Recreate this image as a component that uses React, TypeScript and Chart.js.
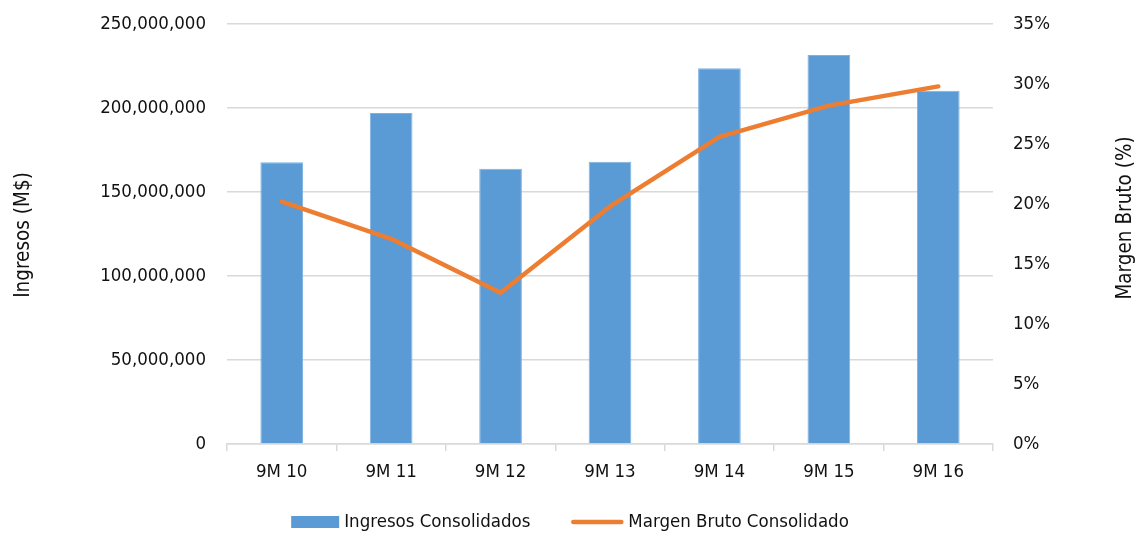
import React, { useEffect, useRef } from "react";
import { Chart, registerables } from "chart.js";

Chart.register(...registerables);

const categories = ["9M 10", "9M 11", "9M 12", "9M 13", "9M 14", "9M 15", "9M 16"];
const ingresos = [167700000, 197000000, 163900000, 168000000, 223600000, 231500000, 210300000];
const margenBruto = [0.202, 0.171, 0.126, 0.198, 0.256, 0.282, 0.298];

const ingresosLabel = "Ingresos Consolidados";
const margenLabel = "Margen Bruto Consolidado";
const leftTitle = "Ingresos (M$)";
const rightTitle = "Margen Bruto (%)";

const FONT = "'DejaVu Sans Condensed', 'Liberation Sans', sans-serif";
const FONT_SIZE = 18.5;
const TITLE_SIZE = 20.5;
const BLUE = "#5B9BD5";
const ORANGE = "#ED7D31";
const GRID = "#D9D9D9";
const TEXT = "#111111";

// Draws the rotated axis titles and the legend row under the axis.
const decorations = {
  id: "decorations",
  afterDraw(chart: any) {
    const { ctx, width, height } = chart;
    ctx.save();
    ctx.fillStyle = TEXT;
    ctx.font = `${TITLE_SIZE}px ${FONT}`;
    ctx.textAlign = "center";
    ctx.textBaseline = "middle";

    ctx.save();
    ctx.translate(24, 235);
    ctx.rotate(-Math.PI / 2);
    ctx.fillText(leftTitle, 0, 0);
    ctx.restore();

    ctx.save();
    ctx.translate(width - 14, 218);
    ctx.rotate(-Math.PI / 2);
    ctx.fillText(rightTitle, 0, 0);
    ctx.restore();

    // legend
    ctx.font = `${FONT_SIZE}px ${FONT}`;
    const boxW = 48;
    const lineW = 52;
    const gapText = 5;
    const gapItems = 41;
    const w1 = ctx.measureText(ingresosLabel).width;
    const w2 = ctx.measureText(margenLabel).width;
    const total = boxW + gapText + w1 + gapItems + lineW + gapText + w2;
    let x = width / 2 - total / 2;
    const y = height - 12;
    ctx.textAlign = "left";
    ctx.fillStyle = BLUE;
    ctx.fillRect(x, y - 6, boxW, 12);
    x += boxW + gapText;
    ctx.fillStyle = TEXT;
    ctx.fillText(ingresosLabel, x, y);
    x += w1 + gapItems;
    ctx.strokeStyle = ORANGE;
    ctx.lineWidth = 4.5;
    ctx.lineCap = "round";
    ctx.beginPath();
    ctx.moveTo(x + 2, y);
    ctx.lineTo(x + lineW - 2, y);
    ctx.stroke();
    x += lineW + gapText;
    ctx.fillStyle = TEXT;
    ctx.fillText(margenLabel, x, y);
    ctx.restore();
  },
};

// Vertical axes: no extra room reserved for half-labels above/below the plot.
function noVerticalOverflow(scale: any) {
  scale.paddingTop = 0;
  scale.paddingBottom = 0;
}

export default function App() {
  const canvasRef = useRef<HTMLCanvasElement | null>(null);

  useEffect(() => {
    if (!canvasRef.current) return;
    const chart = new Chart(canvasRef.current, {
      type: "bar",
      data: {
        labels: categories,
        datasets: [
          {
            type: "bar",
            label: ingresosLabel,
            data: ingresos,
            backgroundColor: BLUE,
            borderColor: "#7FB2E0",
            borderWidth: 1,
            barPercentage: 0.39,
            categoryPercentage: 1,
            yAxisID: "y",
            order: 1,
          },
          {
            type: "line",
            label: margenLabel,
            data: margenBruto,
            borderColor: ORANGE,
            borderWidth: 4.5,
            borderCapStyle: "round",
            borderJoinStyle: "round",
            pointRadius: 0,
            tension: 0,
            fill: false,
            yAxisID: "y1",
            order: 0,
          },
        ],
      },
      options: {
        animation: false,
        responsive: true,
        maintainAspectRatio: false,
        layout: { padding: { top: 24, left: 0, right: 0, bottom: 0 } },
        plugins: {
          legend: { display: false },
          tooltip: { enabled: false },
        },
        scales: {
          x: {
            offset: true,
            grid: {
              offset: true,
              drawOnChartArea: false,
              drawTicks: true,
              tickLength: 7,
              color: GRID,
              lineWidth: 1.5,
            },
            border: { display: true, color: GRID, width: 1.5 },
            ticks: {
              color: TEXT,
              font: { family: FONT, size: FONT_SIZE },
              padding: 10,
            },
            afterFit(scale: any) {
              scale.height = 90;
            },
          },
          y: {
            position: "left",
            min: 0,
            max: 250000000,
            grid: { color: GRID, lineWidth: 1.5, drawTicks: false },
            border: { display: false },
            ticks: {
              stepSize: 50000000,
              color: TEXT,
              padding: 21,
              font: { family: FONT, size: FONT_SIZE },
              callback: (v: any) => Number(v).toLocaleString("en-US"),
            },
            afterFit(scale: any) {
              scale.width = 227;
              noVerticalOverflow(scale);
            },
          },
          y1: {
            position: "right",
            min: 0,
            max: 0.35,
            grid: { display: false, drawTicks: false },
            border: { display: false },
            ticks: {
              stepSize: 0.05,
              color: TEXT,
              padding: 20,
              font: { family: FONT, size: FONT_SIZE },
              callback: (v: any) => `${Math.round(Number(v) * 100)}%`,
            },
            afterFit(scale: any) {
              scale.width = 147;
              noVerticalOverflow(scale);
            },
          },
        },
      },
      plugins: [decorations],
    });
    return () => chart.destroy();
  }, []);

  return (
    <div style={{ position: "fixed", left: 0, top: 0, width: 1140, height: 534, background: "#fff" }}>
      <canvas ref={canvasRef} />
    </div>
  );
}
